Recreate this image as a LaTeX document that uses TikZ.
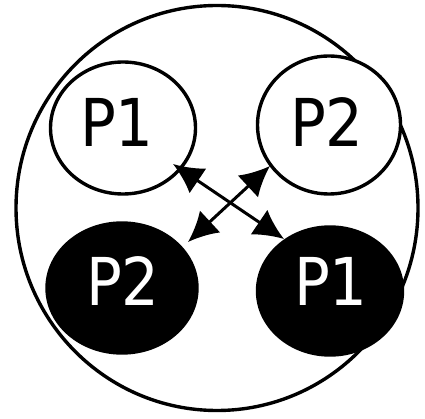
\documentclass[tikz,border=0pt]{standalone}
\usepackage{fontspec}
\newfontfamily\lab{DejaVu Sans Condensed}
\usetikzlibrary{shapes.geometric,arrows.meta}
\tikzset{
  ring/.style={draw, line width=3.4pt, ellipse, inner sep=0pt},
  wring/.style={ring, fill=white},
  bring/.style={ring, fill=black},
  lbl/.style={font=\lab\fontsize{66}{66}\selectfont, inner sep=0pt, anchor=center},
  dbl/.style={line width=3pt, >={Latex[length=30pt,width=30pt]}, <->}
}
\begin{document}
\begin{tikzpicture}[x=1pt,y=-1pt]
\useasboundingbox (0,0) rectangle (425,419);
\node[ring, minimum width=402pt, minimum height=405pt] (outer) at (217,208) {};
\node[wring, minimum width=145pt, minimum height=132pt] (c1) at (123,128) {};
\node[wring, minimum width=143pt, minimum height=138pt] (c2) at (329,125) {};
\node[bring, minimum width=150pt, minimum height=130pt] (c3) at (122,288) {};
\node[bring, minimum width=145pt, minimum height=128pt] (c4) at (330,291) {};
\node[lbl] (t1) at (117,122) {P1};
\node[lbl] (t2) at (327,122) {P2};
\node[lbl, text=white] (t3) at (123,281) {P2};
\node[lbl, text=white] (t4) at (331,281) {P1};
\coordinate (a1) at (173,164);
\coordinate (a4) at (284,239);
\coordinate (a2) at (270,166);
\coordinate (a3) at (188,242);
\draw[dbl] (a1) -- (a4);
\draw[dbl] (a2) -- (a3);
\end{tikzpicture}
\end{document}
